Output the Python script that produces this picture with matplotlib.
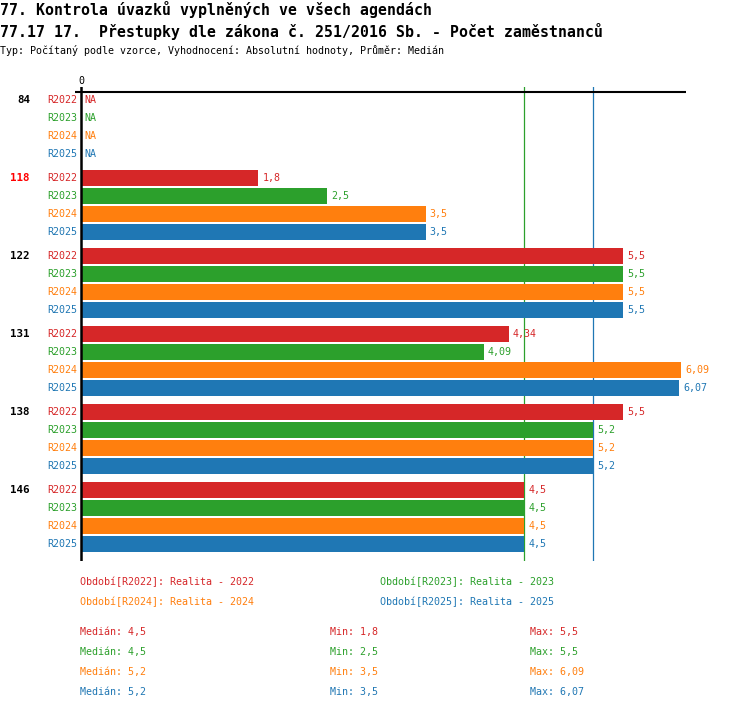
import numpy as np
import matplotlib
matplotlib.use('Agg')
import matplotlib.pyplot as plt

plt.rcParams['font.family'] = ['DejaVu Sans Mono', 'DejaVu Sans']

# data
groups = ['84', '118', '122', '131', '138', '146']
group_colors = ['black', '#ff0000', 'black', 'black', 'black', 'black']
series = ['R2022', 'R2023', 'R2024', 'R2025']
series_names = ['Realita - 2022', 'Realita - 2023', 'Realita - 2024', 'Realita - 2025']
colors = ['#d62728', '#2ca02c', '#ff7f0e', '#1f77b4']
r2022 = [np.nan, 1.8, 5.5, 4.34, 5.5, 4.5]
r2023 = [np.nan, 2.5, 5.5, 4.09, 5.2, 4.5]
r2024 = [np.nan, 3.5, 5.5, 6.09, 5.2, 4.5]
r2025 = [np.nan, 3.5, 5.5, 6.07, 5.2, 4.5]
values = [r2022, r2023, r2024, r2025]

W, H = 750, 710
fig = plt.figure(figsize=(W / 100, H / 100), dpi=100)

def fx(px):
    return px / W

def fy(py):
    return 1 - py / H

# axes in pixel box: x 75..686, y 86.7..560.7
ax = fig.add_axes([fx(75), fy(560.7), fx(686 - 75), (560.7 - 86.7) / H])
scale = 98.52  # px per unit
slot = 18.0    # px per bar row
gstep = 78 / slot
ax.set_xlim(-6 / scale, (686 - 81) / scale)
ax.set_ylim(24.667 + 16.7 / slot, -(100 - 86.7) / slot)
ax.axis('off')

def fmt(v):
    return f"{v:g}".replace('.', ',')

small = 7.2

# median lines (behind bars), later series win when medians coincide
med_lines = {}
for v, c in zip(values, colors):
    med_lines[float(np.nanmedian(v))] = c
for m, c in med_lines.items():
    ax.axvline(m, color=c, lw=0.9, zorder=1)

for gi, g in enumerate(groups):
    base = gi * gstep
    ax.text(-51 / scale, base, g, ha='right', va='center', fontsize=7.8,
            fontweight='bold', color=group_colors[gi], clip_on=False)
    for si, s in enumerate(series):
        y = base + si
        v = values[si][gi]
        ax.text(-4 / scale, y, s, ha='right', va='center', fontsize=small,
                color=colors[si], clip_on=False)
        if np.isnan(v):
            ax.text(3 / scale, y, 'NA', ha='left', va='center', fontsize=small,
                    color=colors[si])
        else:
            ax.barh(y, v, height=16 / slot, color=colors[si], zorder=2)
            ax.text(v + 4 / scale, y, fmt(v), ha='left', va='center',
                    fontsize=small, color=colors[si], zorder=3)

ax.axhline(-(100 - 92.3) / slot, color='black', lw=1.5, zorder=4)
ax.axvline(0, color='black', lw=1.8, zorder=4)
ax.text(0, -(100 - 81) / slot, '0', ha='center', va='center', fontsize=small,
        clip_on=False)

# titles
fig.text(fx(0), fy(10), '77. Kontrola úvazků vyplněných ve všech agendách',
         fontsize=10.7, fontweight='bold', va='center')
fig.text(fx(0), fy(31), '77.17 17.  Přestupky dle zákona č. 251/2016 Sb. - Počet zaměstnanců',
         fontsize=10.7, fontweight='bold', va='center')
fig.text(fx(0), fy(50), 'Typ: Počítaný podle vzorce, Vyhodnocení: Absolutní hodnoty, Průměr: Medián',
         fontsize=small, va='center')

# legend
leg_pos = [(80, 582), (380, 582), (80, 602), (380, 602)]
for (px, py), s, n, c in zip(leg_pos, series, series_names, colors):
    fig.text(fx(px), fy(py), f'Období[{s}]: {n}', fontsize=small, color=c, va='center')

# stats
for si, c in enumerate(colors):
    py = 632 + si * 20
    v = values[si]
    fig.text(fx(80), fy(py), f'Medián: {fmt(np.nanmedian(v))}', fontsize=small, color=c, va='center')
    fig.text(fx(330), fy(py), f'Min: {fmt(np.nanmin(v))}', fontsize=small, color=c, va='center')
    fig.text(fx(530), fy(py), f'Max: {fmt(np.nanmax(v))}', fontsize=small, color=c, va='center')

fig.savefig('out.png', dpi=100)
